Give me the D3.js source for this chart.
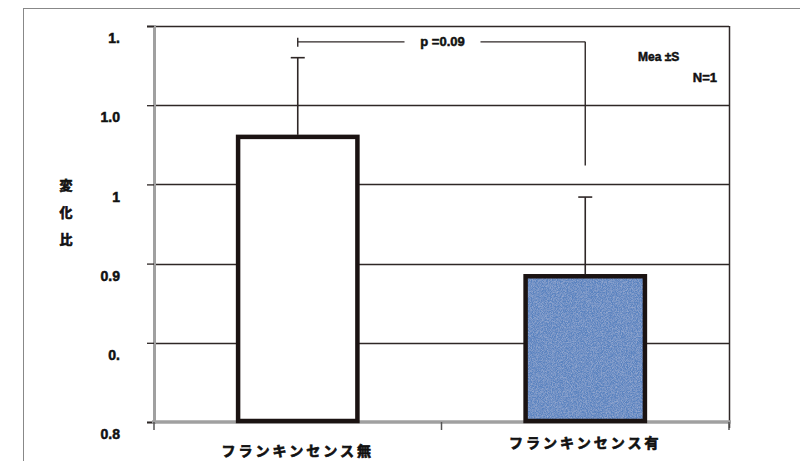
<!DOCTYPE html>
<html>
<head>
<meta charset="utf-8">
<script src="https://cdn.jsdelivr.net/npm/d3@7"></script>
<style>
  body { margin: 0; background: #fff; }
  text { font-family: "Liberation Sans", "Noto Sans CJK JP", sans-serif; font-weight: bold; fill: #111; stroke: #111; stroke-width: 0.5px; }
</style>
</head>
<body>
<div id="chart"></div>
<script>
// data
const categories = ["フランキンセンス無", "フランキンセンス有"];
const means = [0.980, 0.892];
const sds = [0.050, 0.050];
const barFills = ["#ffffff", "#5a83c0"];
const tickValues = [0.8, 0.85, 0.9, 0.95, 1.0, 1.05];
const tickLabels = ["0.8", "0.", "0.9", "1", "1.0", "1."];
const yTitle = ["変", "化", "比"];
const pText = "p =0.09";
const bracketLevel = 1.040;   // horizontal line of the p bracket
const bracketRightEnd = 0.962; // where the right leg stops
const noteLines = ["Mea ±S", "N=1"];

const width = 800, height = 461;
const margin = { left: 154, right: 71, top: 26, bottom: 39 };

const svg = d3.select("#chart").append("svg")
    .attr("width", width)
    .attr("height", height);

// speckle texture for the blue bar
const defs = svg.append("defs");
const f = defs.append("filter").attr("id", "speckle").attr("x", 0).attr("y", 0).attr("width", 1).attr("height", 1);
f.append("feTurbulence").attr("type", "fractalNoise").attr("baseFrequency", 1.2).attr("numOctaves", 1).attr("result", "noise");
f.append("feColorMatrix").attr("in", "noise").attr("type", "matrix")
    .attr("values", "0 0 0 0 1  0 0 0 0 1  0 0 0 0 1  0 0 0 0.55 -0.2").attr("result", "spots");
f.append("feComposite").attr("in", "spots").attr("in2", "SourceGraphic").attr("operator", "in").attr("result", "spots2");
f.append("feMerge").call(m => {
    m.append("feMergeNode").attr("in", "SourceGraphic");
    m.append("feMergeNode").attr("in", "spots2");
});

// outer frame
svg.append("rect")
    .attr("x", 23.5).attr("y", 8.5)
    .attr("width", 800).attr("height", 470)
    .attr("fill", "none")
    .attr("stroke", "#888")
    .attr("stroke-width", 1);

const x = d3.scaleBand()
    .domain(categories)
    .range([margin.left, width - margin.right]);

const y = d3.scaleLinear()
    .domain([0.8, 1.05])
    .range([height - margin.bottom, margin.top]);

// grid lines
svg.append("g")
    .selectAll("line")
    .data(tickValues.slice(1))
    .enter()
    .append("line")
    .attr("x1", margin.left)
    .attr("x2", width - margin.right)
    .attr("y1", d => Math.round(y(d)) + 0.5)
    .attr("y2", d => Math.round(y(d)) + 0.5)
    .attr("stroke", "#2e2726")
    .attr("stroke-width", 1.3);

// right border of the plot
svg.append("line")
    .attr("x1", width - margin.right + 0.5)
    .attr("x2", width - margin.right + 0.5)
    .attr("y1", margin.top)
    .attr("y2", height - margin.bottom + 6)
    .attr("stroke", "#2e2726")
    .attr("stroke-width", 1.5);

// y axis
const yAxis = svg.append("g")
    .attr("transform", `translate(${margin.left},0)`)
    .call(d3.axisLeft(y).tickValues(tickValues).tickSize(7).tickFormat((d, i) => tickLabels[i]));
yAxis.select(".domain").attr("stroke", "#a0a0a0").attr("stroke-width", 3);
yAxis.selectAll(".tick line").attr("stroke", "#2e2726").attr("stroke-width", 1.3);
yAxis.selectAll(".tick text")
    .attr("x", -34)
    .attr("dy", "1.2em")
    .style("font-size", "14px")
    .style("font-family", "Liberation Sans, sans-serif")
    .style("font-weight", "bold")
    .attr("fill", "#111");

// x axis
const xEdges = [margin.left, x(categories[1]), width - margin.right];
const xAxisG = svg.append("g");
xAxisG.append("line")
    .attr("x1", margin.left - 2)
    .attr("x2", width - margin.right + 2)
    .attr("y1", y(0.8))
    .attr("y2", y(0.8))
    .attr("stroke", "#a0a0a0")
    .attr("stroke-width", 3.5);
xAxisG.selectAll(".xt")
    .data(xEdges)
    .enter()
    .append("line")
    .attr("x1", d => d)
    .attr("x2", d => d)
    .attr("y1", y(0.8))
    .attr("y2", y(0.8) + 8)
    .attr("stroke", "#555")
    .attr("stroke-width", 1.5);

// category labels
svg.selectAll(".cat")
    .data(categories)
    .enter()
    .append("text")
    .attr("class", "cat")
    .attr("x", d => x(d) + x.bandwidth() / 2)
    .attr("y", (d, i) => i === 0 ? 456 : 448)
    .attr("text-anchor", "middle")
    .style("font-family", "Noto Sans CJK JP, sans-serif")
    .style("font-size", "14px")
    .style("letter-spacing", "3px")
    .style("stroke-width", "0.7px")
    .text(d => d);

// bars: fill first (textured), then outline on top
const barW = x.bandwidth() * 0.415;
const barX = i => x(categories[i]) + x.bandwidth() / 2 - barW / 2;
svg.selectAll(".barfill")
    .data(means)
    .enter()
    .append("rect")
    .attr("class", "barfill")
    .attr("x", (d, i) => barX(i))
    .attr("y", d => y(d))
    .attr("width", barW)
    .attr("height", d => y(0.8) - y(d) - 1)
    .attr("fill", (d, i) => barFills[i])
    .attr("filter", (d, i) => i === 1 ? "url(#speckle)" : null);
svg.selectAll(".barline")
    .data(means)
    .enter()
    .append("rect")
    .attr("class", "barline")
    .attr("x", (d, i) => barX(i))
    .attr("y", d => y(d))
    .attr("width", barW)
    .attr("height", d => y(0.8) - y(d) - 1)
    .attr("fill", "none")
    .attr("stroke", "#1b1312")
    .attr("stroke-width", 4.5);

// error bars (upper only)
const cx = i => x(categories[i]) + x.bandwidth() / 2;
svg.selectAll(".err")
    .data(means)
    .enter()
    .append("line")
    .attr("x1", (d, i) => cx(i))
    .attr("x2", (d, i) => cx(i))
    .attr("y1", d => y(d) - 2)
    .attr("y2", (d, i) => y(d + sds[i]))
    .attr("stroke", "#2e2726")
    .attr("stroke-width", 1.6);
svg.selectAll(".cap")
    .data(means)
    .enter()
    .append("line")
    .attr("x1", (d, i) => cx(i) - 7)
    .attr("x2", (d, i) => cx(i) + 7)
    .attr("y1", (d, i) => y(d + sds[i]))
    .attr("y2", (d, i) => y(d + sds[i]))
    .attr("stroke", "#2e2726")
    .attr("stroke-width", 1.6);

// p bracket
const bx1 = cx(0), bx2 = cx(1), by = y(bracketLevel);
const pMid = (bx1 + bx2) / 2;
const bracket = svg.append("g")
    .attr("stroke", "#2e2726")
    .attr("stroke-width", 1.4)
    .attr("fill", "none");
bracket.append("line").attr("x1", bx1).attr("x2", bx1).attr("y1", by - 4).attr("y2", by + 5);
bracket.append("line").attr("x1", bx1).attr("x2", pMid - 37).attr("y1", by).attr("y2", by);
bracket.append("line").attr("x1", pMid + 39).attr("x2", bx2).attr("y1", by).attr("y2", by);
bracket.append("line").attr("x1", bx2).attr("x2", bx2).attr("y1", by).attr("y2", y(bracketRightEnd));
svg.append("text")
    .attr("x", pMid + 1)
    .attr("y", by + 4)
    .attr("text-anchor", "middle")
    .style("font-size", "13px")
    .text(pText);

// note in top right
svg.append("text")
    .attr("x", 638)
    .attr("y", 61)
    .style("font-size", "12px")
    .text(noteLines[0]);
svg.append("text")
    .attr("x", 717)
    .attr("y", 82)
    .attr("text-anchor", "end")
    .style("font-size", "13px")
    .text(noteLines[1]);

// y title, one character per line
svg.selectAll(".ytitle")
    .data(yTitle)
    .enter()
    .append("text")
    .attr("class", "ytitle")
    .attr("x", 66)
    .attr("y", (d, i) => 190 + i * 27)
    .attr("text-anchor", "middle")
    .style("font-family", "Noto Sans CJK JP, sans-serif")
    .style("font-size", "13px")
    .style("stroke-width", "0.7px")
    .text(d => d);
</script>
</body>
</html>
